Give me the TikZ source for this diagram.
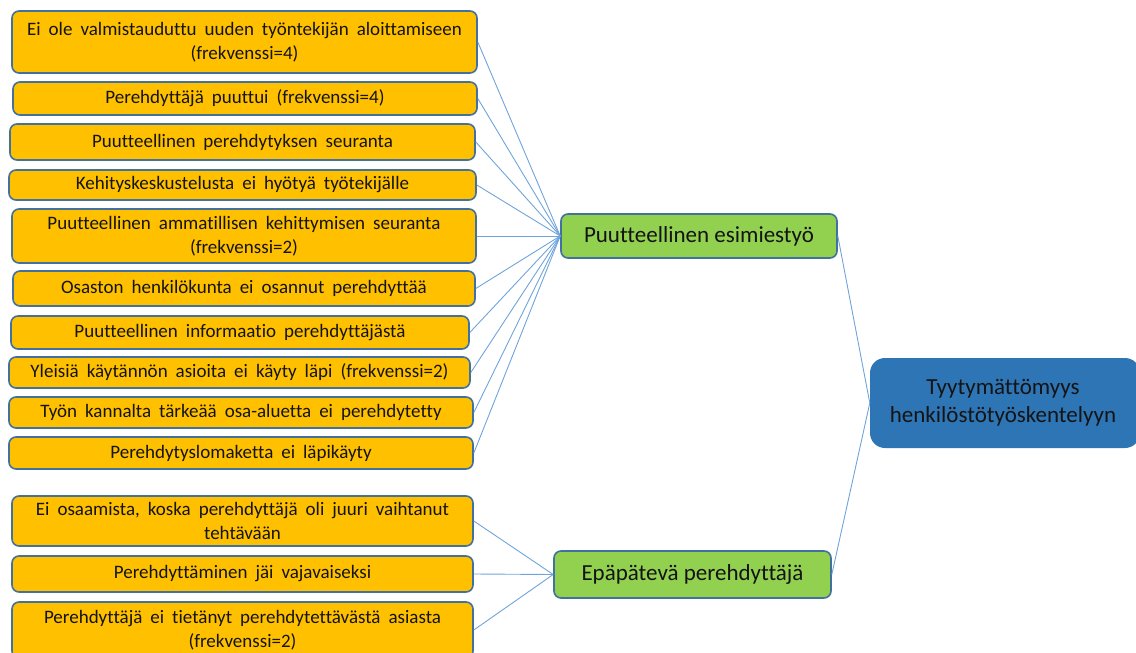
\documentclass[tikz,border=0pt]{standalone}
\usepackage{fontspec}
\setmainfont{Carlito}[Ligatures={NoCommon}]
\definecolor{causefill}{HTML}{FFC000}
\definecolor{groupfill}{HTML}{92D050}
\definecolor{rootfill}{HTML}{2E75B6}
\definecolor{boxedge}{HTML}{41719C}
\definecolor{linkcol}{HTML}{6FA4DA}
\definecolor{ink}{HTML}{141414}
\newcommand{\causetext}{\fontsize{19}{24}\selectfont\spaceskip=8pt plus 2pt minus 1pt\relax}
\tikzset{
  cause/.style={draw=boxedge, fill=causefill, line width=1.6pt, rounded corners=7pt,
    align=center, inner sep=0pt, text=ink, font=\causetext},
  group/.style={draw=boxedge, fill=groupfill, line width=1.6pt, rounded corners=7pt,
    align=center, inner sep=0pt, text=ink, font=\fontsize{23}{28}\selectfont},
  root/.style={fill=rootfill, rounded corners=15pt,
    align=center, inner sep=0pt, text=ink, font=\fontsize{23}{28}\selectfont},
  link/.style={draw=linkcol, line width=0.9pt}
}
\begin{document}
\begin{tikzpicture}[x=1pt, y=-1pt]
\useasboundingbox (0,0) rectangle (1136,653);
\clip (0,0) rectangle (1136,653);

% causes of poor supervision
\node[cause, minimum width=465pt, minimum height=62pt] (c1) at (244.5,42)
  {Ei ole valmistauduttu uuden työntekijän aloittamiseen\\(frekvenssi=4)};
\node[cause, minimum width=464pt, minimum height=33pt] (c2) at (245,98.5)
  {Perehdyttäjä puuttui (frekvenssi=4)};
\node[cause, minimum width=465pt, minimum height=36pt] (c3) at (242.5,142)
  {Puutteellinen perehdytyksen seuranta};
\node[cause, minimum width=467pt, minimum height=30pt] (c4) at (242.5,185)
  {Kehityskeskustelusta ei hyötyä työtekijälle};
\node[cause, minimum width=464pt, minimum height=54pt] (c5) at (244,236)
  {Puutteellinen ammatillisen kehittymisen seuranta\\(frekvenssi=2)};
\node[cause, minimum width=462pt, minimum height=35pt] (c6) at (244,288.5)
  {Osaston henkilökunta ei osannut perehdyttää};
\node[cause, minimum width=458pt, minimum height=33pt] (c7) at (240,332.5)
  {Puutteellinen informaatio perehdyttäjästä};
\node[cause, minimum width=461pt, minimum height=31pt] (c8) at (239.5,372.5)
  {Yleisiä käytännön asioita ei käyty läpi (frekvenssi=2)};
\node[cause, minimum width=464pt, minimum height=31pt] (c9) at (241,412.5)
  {Työn kannalta tärkeää osa-aluetta ei perehdytetty};
\node[cause, minimum width=464pt, minimum height=32pt] (c10) at (241,453)
  {Perehdytyslomaketta ei läpikäyty};

% causes of an unqualified mentor
\node[cause, minimum width=461pt, minimum height=50pt] (d1) at (242.5,521)
  {Ei osaamista, koska perehdyttäjä oli juuri vaihtanut\\tehtävään};
\node[cause, minimum width=461pt, minimum height=36pt] (d2) at (242.5,574)
  {Perehdyttäminen jäi vajavaiseksi};
\node[cause, minimum width=461pt, minimum height=56pt] (d3) at (242.5,630)
  {Perehdyttäjä ei tietänyt perehdytettävästä asiasta\\(frekvenssi=2)};

% groups and root
\node[group, minimum width=276pt, minimum height=44pt] (g1) at (699,236)
  {Puutteellinen esimiestyö};
\node[group, minimum width=277pt, minimum height=47pt] (g2) at (692.5,574.5)
  {Epäpätevä perehdyttäjä};
\node[root, minimum width=270pt, minimum height=90pt, text width=266pt] (r) at (1005,403)
  {\hspace*{-4pt}Tyytymättömyys\\\hspace*{-4pt}henkilöstötyöskentelyyn};

% connectors
\foreach \c in {c1,c2,c3,c4,c5,c6,c7,c8,c9,c10}
  \draw[link] (\c.east) -- (g1.west);
\foreach \c in {d1,d2,d3}
  \draw[link] (\c.east) -- (g2.west);
\draw[link] (g1.east) -- (r.west);
\draw[link] (g2.east) -- (r.west);
\end{tikzpicture}
\end{document}
